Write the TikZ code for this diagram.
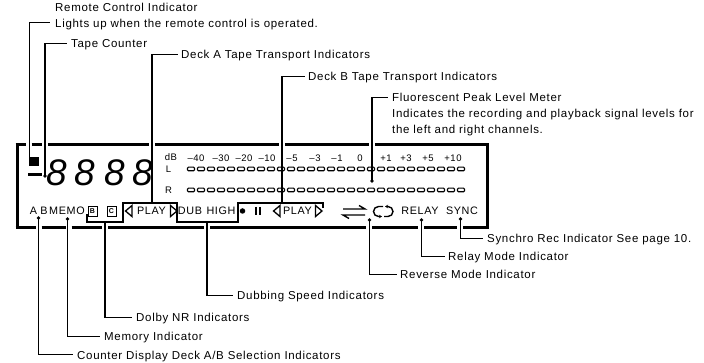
\documentclass[tikz,border=0pt]{standalone}
\usepackage{fontspec}
\setmainfont{Liberation Sans}[LetterSpace=6]
\newfontfamily\digfont{Liberation Sans}
\usetikzlibrary{arrows.meta}
\begin{document}
\begin{tikzpicture}[x=1pt,y=-1pt,
  lbl/.style={anchor=base west, inner sep=0pt, font=\fontsize{11.5}{13}\selectfont},
  disp/.style={inner sep=0pt, font=\fontsize{10.8}{12}\selectfont},
  num/.style={inner sep=0pt, text height=6.5pt, text depth=0pt, font=\fontsize{9.5}{11}\selectfont},
  lead/.style={line width=1.1pt},
  brk/.style={line width=1.1pt},
  frame/.style={line width=3pt},
  dotc/.style={circle, fill, inner sep=0pt, minimum size=3.8pt},
  seg/.style={draw, line width=1.1pt, rounded corners=1pt, minimum width=7pt, minimum height=3.6pt, inner sep=0pt},
  digit/.style={inner sep=0pt, text height=27pt, text depth=0pt, font=\digfont\fontsize{37}{37}\selectfont\itshape},
  boxl/.style={draw, line width=0.9pt, inner sep=0pt, minimum width=9pt, minimum height=10pt, font=\fontsize{7}{7}\selectfont\bfseries},
  tri/.style={line width=1.3pt, line join=miter},
]
\useasboundingbox (0,0) rectangle (704,363);

% ---------- display frame ----------
\draw[frame] (17,143.5) -- (17,229.5);
\draw[frame] (487,143.5) -- (487,229.5);
\draw[frame] (15.5,145) -- (25.5,145) (31.5,145) -- (42,145) (48,145) -- (149,145)
  (155,145) -- (279,145) (285,145) -- (369,145) (375,145) -- (488.5,145);
\draw[frame] (15.5,228) -- (35.5,228) (41.5,228) -- (65.5,228) (71.5,228) -- (102,228)
  (108,228) -- (204,228) (210,228) -- (366,228) (372,228) -- (418,228)
  (424,228) -- (457,228) (463,228) -- (488.5,228);

% ---------- counter area ----------
\node[fill, minimum width=10pt, minimum height=9pt, inner sep=0pt] (remsq) at (34,161.5) {};
\draw[line width=3pt] (28,175) -- (42,175);
\node[digit] (d1) at (57,172) {8};
\node[digit] (d2) at (85,172) {8};
\node[digit] (d3) at (115,172) {8};
\node[digit] (d4) at (143,172) {8};

% ---------- level meter ----------
\node[num] (db) at (171,157.5) {dB};
\node[num] (m40) at (196,158) {–40};
\node[num] (m30) at (221,158) {–30};
\node[num] (m20) at (244,158) {–20};
\node[num] (m10) at (267,158) {–10};
\node[num] (m5) at (292,158) {–5};
\node[num] (m3) at (315,158) {–3};
\node[num] (m1) at (337,158) {–1};
\node[num] (z0) at (360,158) {0};
\node[num] (p1) at (386,158) {+1};
\node[num] (p3) at (406,158) {+3};
\node[num] (p5) at (428,158) {+5};
\node[num] (p10) at (453,158) {+10};
\node[num] (chL) at (168.5,169.5) {L};
\node[num] (chR) at (168.5,190) {R};
\foreach \i in {0,...,27} {
  \node[seg] (sl\i) at (191+10*\i,169) {};
  \node[seg] (sr\i) at (191+10*\i,190) {};
}

% ---------- bottom indicator row ----------
\node[disp] (ta) at (33.5,211) {A};
\node[disp] (tb) at (44,211) {B};
\node[disp] (tmemo) at (67,211) {MEMO};
\node[boxl] (bB) at (92.5,211) {B};
\node[boxl] (bC) at (111.5,211) {C};
\draw[tri] (132,205.5) -- (125.5,211) -- (132,216.5) -- cycle;
\node[disp] (playa) at (151.5,211) {PLAY};
\draw[tri] (170.5,205.5) -- (177,211) -- (170.5,216.5) -- cycle;
\node[disp] (tdub) at (190,211) {DUB};
\node[disp] (thigh) at (221,211) {HIGH};
\node[circle, fill, inner sep=0pt, minimum size=5.5pt] (rec) at (242.5,211) {};
\draw[line width=1.8pt] (256,207) -- (256,215) (259.8,207) -- (259.8,215);
\draw[tri] (280,205.5) -- (273.5,211) -- (280,216.5) -- cycle;
\node[disp] (playb) at (297.5,211) {PLAY};
\draw[tri] (315.5,205.5) -- (322,211) -- (315.5,216.5) -- cycle;
% direction symbol
\draw[line width=1.4pt] (343,209) -- (365,209) -- (359,205.5);
\draw[line width=1.4pt] (365,215) -- (343,215) -- (349,218.5);
% loop symbol
\draw[line width=1.4pt, -{Stealth[length=3pt,width=3.5pt]}] (383,206.5) -- (378.5,206.5)
  arc[start angle=90, end angle=270, radius=5pt] -- (382,216.5);
\draw[line width=1.4pt, -{Stealth[length=3pt,width=3.5pt]}] (384,216.5) -- (388,216.5)
  arc[start angle=-90, end angle=90, radius=5pt] -- (385,206.5);
\node[disp] (trelay) at (420,211) {RELAY};
\node[disp] (tsync) at (462,211) {SYNC};

% brackets
\draw[brk] (87,214.5) -- (87,222) -- (123,222) -- (123,203) -- (177,203) -- (177,222)
  -- (238,222) -- (238,203) -- (323,203) -- (323,208);

% ---------- dots ----------
\node[dotc] (tapedot) at (45,176) {};
\node[dotc] (fldot) at (372,181) {};
\node[dotc] (abdot) at (38.5,218) {};
\node[dotc] (memodot) at (67.5,219) {};
\node[dotc] (revdot) at (369.5,220) {};
\node[dotc] (reldot) at (421.5,220) {};
\node[dotc] (syncdot) at (460.5,219) {};
\coordinate (dacoord) at (152,203);
\coordinate (dbcoord) at (282,203);
\coordinate (dubcoord) at (207,222);
\coordinate (dolbycoord) at (105,222);

% ---------- labels ----------
\node[lbl] (remote) at (55,12) {Remote Control Indicator};
\node[lbl] (lights) at (55,28) {Lights up when the remote control is operated.};
\node[lbl] (tape) at (71,48) {Tape Counter};
\node[lbl] (decka) at (181,59) {Deck A Tape Transport Indicators};
\node[lbl] (deckb) at (308,81) {Deck B Tape Transport Indicators};
\node[lbl] (fluor) at (392,102) {Fluorescent Peak Level Meter};
\node[lbl] (fluor2) at (392,118) {Indicates the recording and playback signal levels for};
\node[lbl] (fluor3) at (392,134) {the left and right channels.};
\node[lbl] (sync) at (487,243) {Synchro Rec Indicator See page 10.};
\node[lbl] (relay) at (448,261) {Relay Mode Indicator};
\node[lbl] (rev) at (400,279) {Reverse Mode Indicator};
\node[lbl] (dub) at (237,300) {Dubbing Speed Indicators};
\node[lbl] (dolby) at (136,322) {Dolby NR Indicators};
\node[lbl] (memo) at (104,341) {Memory Indicator};
\node[lbl] (cnt) at (77,359) {Counter Display Deck A/B Selection Indicators};

% ---------- leaders ----------
\draw[lead] ([xshift=0.5pt]remsq.north west) |- ([xshift=-5pt,yshift=5.5pt]lights.base west);
\draw[lead] (tapedot.center) |- ([xshift=-4pt,yshift=4.5pt]tape.base west);
\draw[lead] (dacoord) |- ([xshift=-3pt,yshift=4.5pt]decka.base west);
\draw[lead] (dbcoord) |- ([xshift=-3pt,yshift=4.5pt]deckb.base west);
\draw[lead] (fldot.center) |- ([xshift=-4pt,yshift=4.5pt]fluor.base west);
\draw[lead] (syncdot.center) |- ([xshift=-4pt,yshift=4.5pt]sync.base west);
\draw[lead] (reldot.center) |- ([xshift=-3pt,yshift=4.5pt]relay.base west);
\draw[lead] (revdot.center) |- ([xshift=-3pt,yshift=4.5pt]rev.base west);
\draw[lead] (dubcoord) |- ([xshift=-4pt,yshift=4.5pt]dub.base west);
\draw[lead] (dolbycoord) |- ([xshift=-4pt,yshift=4.5pt]dolby.base west);
\draw[lead] (memodot.center) |- ([xshift=-4pt,yshift=4.5pt]memo.base west);
\draw[lead] (abdot.center) |- ([xshift=-4pt,yshift=4.5pt]cnt.base west);
\end{tikzpicture}
\end{document}
